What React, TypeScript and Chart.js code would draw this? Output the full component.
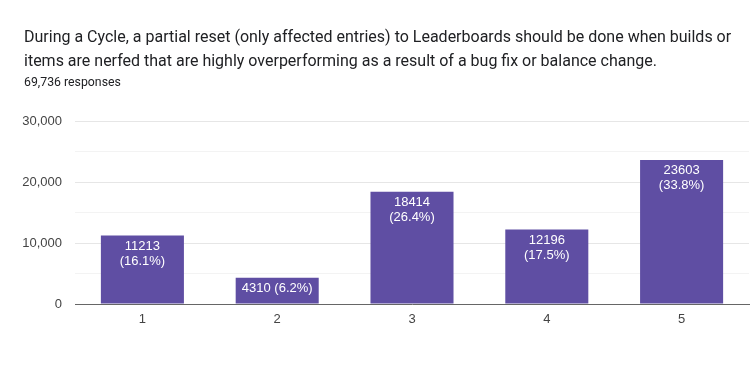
import React, { useEffect, useRef } from "react";
import { Chart, registerables } from "chart.js";

Chart.register(...registerables);

const titleLines = [
  "During a Cycle, a partial reset (only affected entries) to Leaderboards should be done when builds or",
  "items are nerfed that are highly overperforming as a result of a bug fix or balance change.",
];
const subtitle = "69,736 responses";
const categories = ["1", "2", "3", "4", "5"];
const values = [11213, 4310, 18414, 12196, 23603];
const percents = ["16.1%", "6.2%", "26.4%", "17.5%", "33.8%"];
const singleLine = [false, true, false, false, false];

const BAR_COLOR = "#5f4ea3";

const headerPlugin = {
  id: "header",
  afterDraw(chart: any) {
    const ctx = chart.ctx;
    ctx.save();
    ctx.fillStyle = "#202124";
    ctx.textAlign = "left";
    ctx.textBaseline = "alphabetic";
    ctx.font = "16px Roboto";
    ctx.fillText(titleLines[0], 24, 42);
    ctx.fillText(titleLines[1], 24, 66);
    ctx.font = "12.3px Roboto";
    ctx.fillText(subtitle, 24, 86);
    ctx.restore();
  },
};

const barLabelPlugin = {
  id: "barLabels",
  afterDatasetsDraw(chart: any) {
    const ctx = chart.ctx;
    const meta = chart.getDatasetMeta(0);
    ctx.save();
    ctx.fillStyle = "#ffffff";
    ctx.font = "13px 'Liberation Sans', Arial, sans-serif";
    ctx.textAlign = "center";
    ctx.textBaseline = "alphabetic";
    meta.data.forEach((bar: any, i: number) => {
      const x = bar.x;
      const top = bar.y;
      if (singleLine[i]) {
        ctx.fillText(`${values[i]} (${percents[i]})`, x, top + 14);
      } else {
        ctx.fillText(String(values[i]), x, top + 14);
        ctx.fillText(`(${percents[i]})`, x, top + 29);
      }
    });
    ctx.restore();
  },
};

export default function App() {
  const ref = useRef<HTMLCanvasElement>(null);
  useEffect(() => {
    if (!ref.current) return;
    const chart = new Chart(ref.current, {
      type: "bar",
      data: {
        labels: categories,
        datasets: [
          {
            data: values,
            backgroundColor: BAR_COLOR,
            borderWidth: 0,
            barPercentage: 0.616,
            categoryPercentage: 1,
          },
        ],
      },
      options: {
        animation: false,
        responsive: false,
        maintainAspectRatio: false,
        layout: { padding: { top: 121, right: 1, left: 0, bottom: 0 } },
        plugins: {
          legend: { display: false },
          tooltip: { enabled: false },
          title: { display: false },
        },
        scales: {
          x: {
            afterFit: (s: any) => {
              s.height = 77;
            },
            grid: { display: false, drawTicks: false },
            border: { display: true, color: "#666666", width: 1 },
            ticks: {
              padding: 8,
              color: "#444444",
              font: { family: "'Liberation Sans', Arial, sans-serif", size: 13 },
            },
          },
          y: {
            min: 0,
            max: 30000,
            afterFit: (s: any) => {
              s.width = 75;
            },
            border: { display: false },
            grid: {
              drawTicks: false,
              color: (c: any) =>
                c.tick && c.tick.value % 10000 === 0 ? "#e6e6e6" : "#f3f3f3",
            },
            ticks: {
              stepSize: 5000,
              padding: 13,
              color: "#444444",
              font: { family: "'Liberation Sans', Arial, sans-serif", size: 13 },
              callback: (v: any) =>
                Number(v) % 10000 === 0 ? Number(v).toLocaleString("en-US") : "",
            },
          },
        },
      },
      plugins: [headerPlugin, barLabelPlugin],
    });
    return () => chart.destroy();
  }, []);
  return (
    <div
      style={{
        position: "fixed",
        left: 0,
        top: 0,
        width: 750,
        height: 381,
        background: "#ffffff",
      }}
    >
      <canvas ref={ref} width={750} height={381} style={{ display: "block" }} />
    </div>
  );
}
